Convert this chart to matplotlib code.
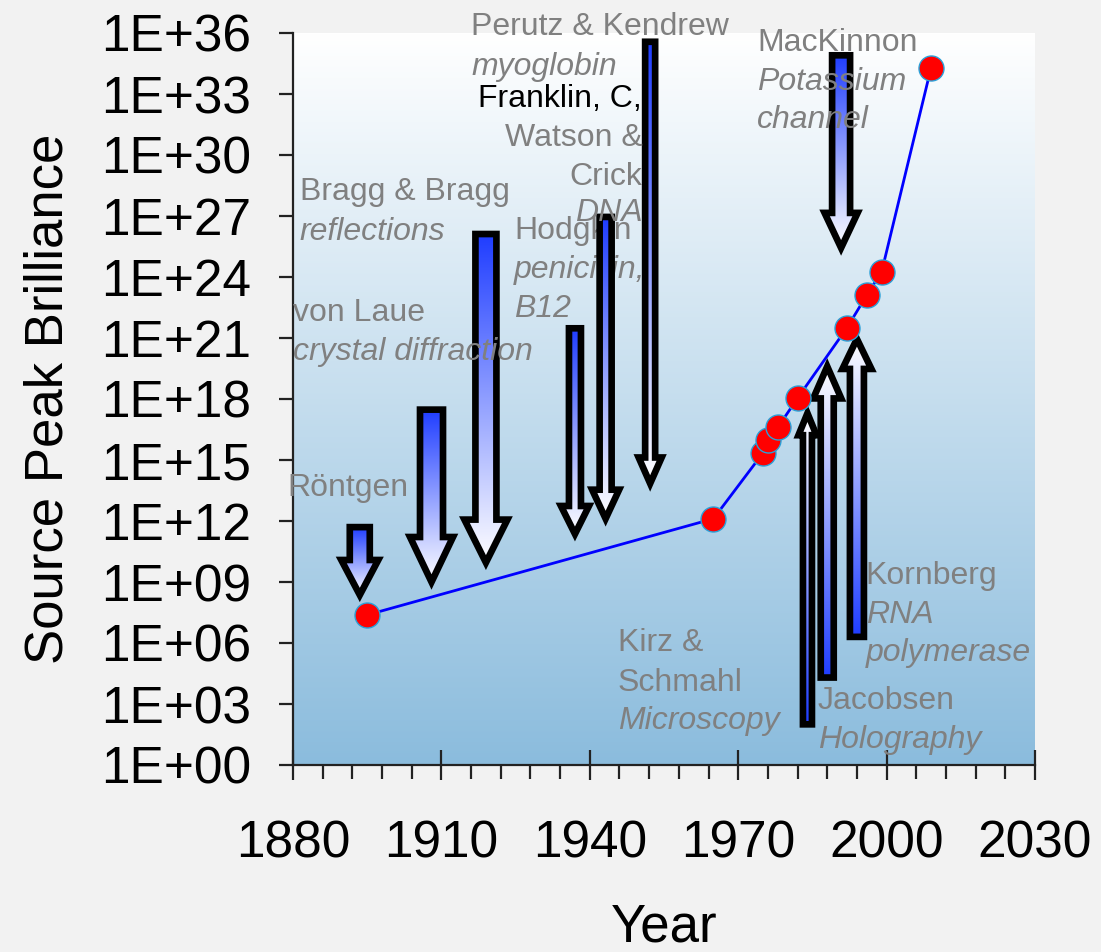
import numpy as np
import matplotlib
matplotlib.use("Agg")
import matplotlib.pyplot as plt
from matplotlib.colors import LinearSegmentedColormap
from matplotlib.patches import Polygon
from matplotlib.ticker import FixedLocator, FuncFormatter, NullLocator

plt.rcParams['font.family'] = ['Liberation Sans', 'DejaVu Sans']

# source peak brilliance over the years
years = [1895, 1965, 1975, 1976, 1978, 1982, 1992, 1996, 1999, 2009]
brilliance = [2.4e7, 1.3e12, 2.2e15, 1e16, 4e16, 1.1e18, 3.2e21, 1.3e23, 1.8e24, 2e34]

# discoveries: arrows pointing down (tail -> tip)
down_years = [1893.5, 1908, 1919, 1937, 1943.2, 1952.2, 1990.8]
down_from = [5e11, 3e17, 1.3e26, 3e21, 9e26, 3.7e35, 8e34]
down_to = [2.3e8, 1e9, 9e9, 2.3e11, 1.3e12, 7e13, 2.7e25]

# arrows pointing up
up_years = [1984, 1988, 1994]
up_from = [1e2, 2e4, 2e6]
up_to = [2e17, 4e19, 9e20]

# arrow sizes in pixels: shaft width, head width, head length
down_size = [(20, 37, 35), (23, 43, 45), (21, 43, 43), (12, 28, 28),
             (12, 27, 29), (10, 23, 26), (18, 33, 35)]
up_size = [(9, 18, 22), (13, 28, 32), (14, 29, 30)]

# labels: text, year, value, italic, colour, alignment, behind arrows
grey = '#808080'
labels = [
    ("Röntgen", 1878.8, 4.2e13, False, grey, 'left', False),
    ("von Laue", 1880.0, 1.7e22, False, grey, 'left', False),
    ("crystal diffraction", 1880.0, 2.0e20, True, grey, 'left', False),
    ("Bragg & Bragg", 1881.4, 1.5e28, False, grey, 'left', False),
    ("reflections", 1881.4, 1.7e26, True, grey, 'left', False),
    ("Hodgkin", 1924.7, 1.9e26, False, grey, 'left', True),
    ("penicillin,", 1924.7, 2.2e24, True, grey, 'left', True),
    ("B12", 1924.7, 2.7e22, True, grey, 'left', True),
    ("Perutz & Kendrew", 1916.0, 2e36, False, grey, 'left', False),
    ("myoglobin", 1916.0, 2.1e34, True, grey, 'left', False),
    ("Franklin, C,", 1950.5, 5.8e32, False, 'black', 'right', False),
    ("Watson &", 1950.7, 6.9e30, False, grey, 'right', False),
    ("Crick", 1950.7, 8.3e28, False, grey, 'right', False),
    ("DNA", 1950.7, 1.4e27, True, grey, 'right', False),
    ("MacKinnon", 1973.8, 3.2e35, False, grey, 'left', False),
    ("Potassium", 1973.8, 4e33, True, grey, 'left', False),
    ("channel", 1973.8, 5.4e31, True, grey, 'left', False),
    ("Kornberg", 1995.8, 2e9, False, grey, 'left', False),
    ("RNA", 1995.8, 2.4e7, True, grey, 'left', False),
    ("polymerase", 1995.8, 3.2e5, True, grey, 'left', False),
    ("Kirz &", 1945.7, 1e6, False, grey, 'left', False),
    ("Schmahl", 1945.7, 1.1e4, False, grey, 'left', False),
    ("Microscopy", 1945.7, 1.4e2, True, grey, 'left', False),
    ("Jacobsen", 1986.1, 1.4e3, False, grey, 'left', False),
    ("Holography", 1986.1, 17, True, grey, 'left', False),
]

fig = plt.figure(figsize=(11.01, 9.52), dpi=100, facecolor='#f2f2f2')
ax = fig.add_axes([293 / 1101, 1 - 765 / 952, (1035 - 293) / 1101, (765 - 33) / 952])
ax.set_yscale('log')
ax.set_xlim(1880, 2030)
ax.set_ylim(1, 1e36)
ax.set_autoscale_on(False)
ax.patch.set_alpha(0)

# plot area gradient
bg = LinearSegmentedColormap.from_list('bg', ['#8bbcdd', '#ffffff'])
ax.imshow(np.linspace(0, 1, 256).reshape(-1, 1), cmap=bg, origin='lower',
          extent=[0, 1, 0, 1], transform=ax.transAxes, aspect='auto',
          interpolation='bilinear', zorder=0)

fade = LinearSegmentedColormap.from_list('fade', ['#1f3dff', '#ffffff'])
to_axes = ax.transAxes.inverted()
to_data = ax.transData.inverted()


def draw_arrow(x, y0, y1, size):
    shaft, head, head_len = size
    (px, py0), (_, py1) = ax.transData.transform([(x, y0), (x, y1)])
    d = 1 if py1 > py0 else -1
    base = py1 - d * head_len
    pts = [(px - shaft / 2, py0), (px + shaft / 2, py0), (px + shaft / 2, base),
           (px + head / 2, base), (px, py1), (px - head / 2, base),
           (px - shaft / 2, base)]
    poly = Polygon(to_data.transform(pts), closed=True, facecolor='none',
                   edgecolor='black', lw=4.8, joinstyle='miter', zorder=3)
    ax.add_patch(poly)
    (ax0, ay0), (ax1, ay1) = to_axes.transform([(px - head / 2, py0), (px + head / 2, py1)])
    im = ax.imshow(np.linspace(0, 1, 256).reshape(-1, 1), cmap=fade, origin='lower',
                   extent=[ax0, ax1, ay0, ay1], transform=ax.transAxes,
                   aspect='auto', interpolation='bilinear', zorder=2.9)
    im.set_clip_path(poly)


for x, a, b, s in zip(down_years, down_from, down_to, down_size):
    draw_arrow(x, a, b, s)
for x, a, b, s in zip(up_years, up_from, up_to, up_size):
    draw_arrow(x, a, b, s)

ax.plot(years, brilliance, color='#0000ff', lw=2, marker='o', ms=18,
        mfc='#ff0000', mec='#2aa0d8', mew=1, zorder=5, clip_on=False)

for txt, x, y, ital, col, ha, behind in labels:
    ax.text(x, y, txt, fontsize=23, color=col, ha=ha, va='center',
            style='italic' if ital else 'normal', zorder=1 if behind else 4)

for side in ['top', 'right']:
    ax.spines[side].set_visible(False)
for side in ['left', 'bottom']:
    ax.spines[side].set_linewidth(1.6)
    ax.spines[side].set_color('#222222')

ax.yaxis.set_major_locator(FixedLocator([10.0 ** k for k in range(0, 37, 3)]))
ax.yaxis.set_minor_locator(NullLocator())
ax.yaxis.set_major_formatter(FuncFormatter(lambda v, p: "1E+%02d" % round(np.log10(v))))
ax.xaxis.set_major_locator(FixedLocator(range(1880, 2031, 30)))
ax.xaxis.set_minor_locator(FixedLocator(range(1880, 2031, 6)))

ax.tick_params(axis='y', which='major', direction='out', length=10, width=1.6,
               pad=20, labelsize=37, color='#222222')
ax.tick_params(axis='x', which='major', direction='inout', length=22, width=1.6,
               pad=28, labelsize=37, color='#222222')
ax.tick_params(axis='x', which='minor', direction='out', length=10, width=1.6,
               color='#222222')

ax.set_xlabel('Year', fontsize=38, labelpad=25)
ax.set_ylabel('Source Peak Brilliance', fontsize=38, labelpad=20)

fig.savefig('out.png', dpi=100, facecolor=fig.get_facecolor())
